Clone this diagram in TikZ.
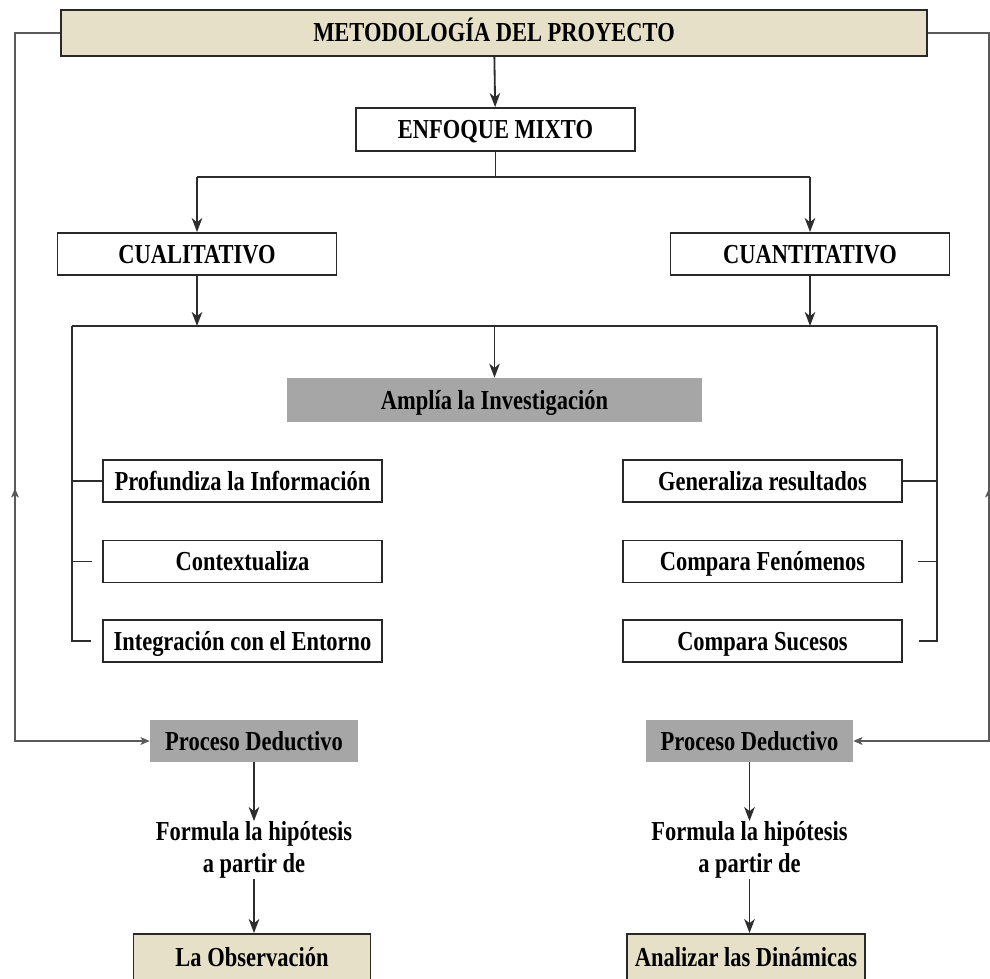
\documentclass[tikz,border=0pt]{standalone}
\usepackage{fontspec}
\setmainfont{Liberation Serif}[FakeStretch=0.82]
\usepackage{xcolor}
\usepackage{tikz}
\usetikzlibrary{
  positioning,
  arrows.meta,
  decorations.markings,
  calc
}
\definecolor{Beige}{RGB}{230,224,201}
\definecolor{GrisCaja}{RGB}{166,166,166}
\definecolor{Borde}{RGB}{40,40,40}
\definecolor{Linea}{RGB}{45,45,45}
\definecolor{Lazo}{RGB}{90,90,90}

\begin{document}
\begin{tikzpicture}[x=0.025cm,y=-0.025cm,
  font=\fontsize{19.5}{23}\selectfont\bfseries,
  >={Stealth[length=10pt,width=7.5pt,inset=3pt]},
  base/.style={inner sep=0pt, text height=14.4pt, text depth=1.6pt},
  caja/.style={base, draw=Borde, line width=1.3pt, fill=white,
    minimum width=279*0.025cm, minimum height=42*0.025cm},
  cajagris/.style={base, fill=GrisCaja, minimum height=42*0.025cm},
  cajabeige/.style={caja, fill=Beige},
  texto/.style={align=center, inner sep=0pt},
  conector/.style={draw=Linea, line width=1.3pt},
  lazo/.style={draw=Lazo, line width=1.1pt},
  flechita/.style={-{Stealth[length=6.5pt,width=5.5pt,inset=1.5pt]}}]
  \useasboundingbox (0,0) rectangle (990,978);

  % ---------- cajas principales ----------
  \node[cajabeige, minimum width=866*0.025cm, minimum height=46*0.025cm]
    (metodo) at (494,33) {METODOLOGÍA DEL PROYECTO};
  \node[caja, minimum height=43*0.025cm] (enfoque) at (495.5,129.5) {ENFOQUE MIXTO};
  \node[caja] (cuali)  at (197,254) {CUALITATIVO};
  \node[caja] (cuanti) at (810,254) {CUANTITATIVO};
  \node[cajagris, minimum width=415*0.025cm, minimum height=44*0.025cm]
    (amplia) at (494.5,400) {Amplía la Investigación};

  % ---------- ramas izquierda / derecha ----------
  \node[caja] (profundiza)   at (242.5,481)   {Profundiza la Información};
  \node[caja] (contextualiza) at (242.5,561.5) {Contextualiza};
  \node[caja] (integracion)  at (242.5,641)   {Integración con el Entorno};
  \node[caja] (generaliza)   at (762.5,481)   {Generaliza resultados};
  \node[caja] (fenomenos)    at (762.5,561.5) {Compara Fenómenos};
  \node[caja] (sucesos)      at (762.5,641)   {Compara Sucesos};

  % ---------- proceso deductivo ----------
  \node[cajagris, minimum width=208*0.025cm] (procIzq) at (254,741) {Proceso Deductivo};
  \node[cajagris, minimum width=207*0.025cm] (procDer) at (749.5,741) {Proceso Deductivo};
  \node[texto] (formIzq) at (254,850) {Formula la hipótesis\\a partir de};
  \node[texto] (formDer) at (749.5,850) {Formula la hipótesis\\a partir de};
  \node[cajabeige, minimum width=237*0.025cm, minimum height=46*0.025cm]
    (observa) at (252,957) {La Observación};
  \node[cajabeige, minimum width=238*0.025cm, minimum height=46*0.025cm]
    (dinamicas) at (746,957) {Analizar las Dinámicas};

  % puntos de reparto
  \coordinate (ramaIzq) at (197,177);
  \coordinate (ramaDer) at (810,177);
  \coordinate (barraIzq) at (72,326);
  \coordinate (barraDer) at (937,326);
  \coordinate (esqIzqSup) at (15,33);
  \coordinate (esqIzqInf) at (15,741);
  \coordinate (esqDerSup) at (989,33);
  \coordinate (esqDerInf) at (989,741);

  % ---------- conectores ----------
  \draw[conector,->] (metodo) -- (enfoque);
  \draw[conector] (enfoque) -- (enfoque |- ramaIzq);
  \draw[conector] (ramaIzq) -- (ramaDer);
  \draw[conector,->] (ramaIzq) -- (cuali);
  \draw[conector,->] (ramaDer) -- (cuanti);
  \draw[conector,->] (cuali) -- (cuali |- barraIzq);
  \draw[conector,->] (cuanti) -- (cuanti |- barraIzq);
  \draw[conector] (barraIzq) -- (barraDer);
  \draw[conector,->] (amplia |- barraIzq) -- (amplia);

  \draw[conector] (barraIzq) |- ($(integracion.west)+(-11,0)$);
  \draw[conector] (barraIzq |- profundiza) -- (profundiza);
  \draw[conector] (barraIzq |- contextualiza) -- ++(20,0);
  \draw[conector] (barraDer) |- ($(sucesos.east)+(16,0)$);
  \draw[conector] (barraDer |- generaliza) -- (generaliza);
  \draw[conector] (barraDer |- fenomenos) -- ++(-19,0);

  \draw[conector,->] (procIzq) -- (formIzq);
  \draw[conector,->] (formIzq.south) -- (formIzq.south |- observa.north);
  \draw[conector,->] (procDer) -- (formDer);
  \draw[conector,->] (formDer.south) -- (formDer.south |- dinamicas.north);

  % lazos exteriores
  \draw[lazo,flechita,
    postaction={decorate},
    decoration={markings, mark=at position 0.5636 with
      {\arrowreversed{Stealth[length=6.5pt,width=5.5pt,inset=1.5pt]}}}]
    (metodo.west) -- (esqIzqSup) -- (esqIzqInf) -- (procIzq.west);
  \draw[lazo,flechita,
    postaction={decorate},
    decoration={markings, mark=at position 0.5706 with
      {\arrowreversed{Stealth[length=6.5pt,width=5.5pt,inset=1.5pt]}}}]
    (metodo.east) -- (esqDerSup) -- (esqDerInf) -- (procDer.east);
\end{tikzpicture}
\end{document}
